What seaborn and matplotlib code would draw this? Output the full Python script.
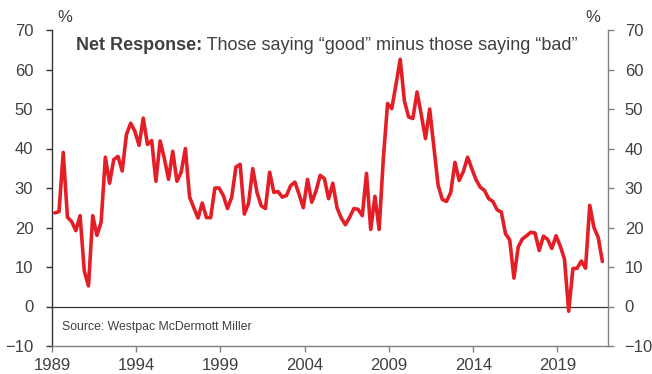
import numpy as np
import pandas as pd
import matplotlib
matplotlib.use("Agg")
import matplotlib.pyplot as plt
import seaborn as sns

# Quarterly net response, 1989Q1 .. 2021Q3
start_quarter = "1989Q1"
net_response = [
    23.7, 24.0, 39.0, 22.6, 21.5, 19.2, 23.0, 9.0, 5.2, 23.0,
    18.0, 21.4, 37.8, 31.2, 37.2, 38.0, 34.3, 43.5, 46.4, 44.4,
    40.8, 47.7, 41.0, 42.0, 31.7, 41.9, 37.5, 32.2, 39.3, 31.7,
    34.0, 40.0, 27.7, 25.0, 22.4, 26.2, 22.5, 22.5, 30.0, 30.0,
    28.1, 24.8, 27.7, 35.3, 36.0, 23.4, 26.2, 34.9, 28.9, 25.5,
    24.8, 34.0, 28.9, 29.1, 27.7, 28.1, 30.6, 31.5, 28.4, 25.0,
    32.2, 26.4, 29.2, 33.2, 32.4, 27.3, 31.2, 25.0, 22.4, 20.7,
    22.6, 24.8, 24.6, 23.0, 33.7, 19.5, 27.9, 19.5, 37.5, 51.4,
    50.1, 56.2, 62.6, 52.0, 48.0, 47.6, 54.3, 48.6, 42.5, 50.0,
    40.4, 30.7, 27.1, 26.6, 28.9, 36.5, 31.9, 34.2, 37.8, 34.9,
    32.1, 30.2, 29.4, 27.3, 26.6, 24.5, 23.9, 18.4, 16.9, 7.2,
    15.0, 17.1, 17.9, 18.8, 18.6, 14.2, 17.8, 17.0, 14.7, 17.9,
    15.3, 12.0, -1.2, 9.6, 9.7, 11.5, 9.7, 25.6, 20.0, 17.5,
    11.4,
]
x_ticks = [1989, 1994, 1999, 2004, 2009, 2014, 2019]
y_ticks = [-10, 0, 10, 20, 30, 40, 50, 60, 70]
title_bold = "Net Response:"
title_rest = " Those saying \u201cgood\u201d minus those saying \u201cbad\u201d"
source_text = "Source: Westpac McDermott Miller"

quarters = pd.period_range(start_quarter, periods=len(net_response), freq="Q")
# position each quarter at its middle month (decimal year)
dec_year = quarters.year + (quarters.quarter - 1) * 0.25 + 2 / 12
df = pd.DataFrame({"year": dec_year, "value": net_response})

sns.set_theme(style="white")
plt.rcParams["font.family"] = ["Liberation Sans", "DejaVu Sans"]

TXT = "#404040"
RED = "#E41E26"
FS = 12

fig = plt.figure(figsize=(6.52, 3.74), dpi=100)
ax = fig.add_axes([52 / 652, 1 - 346 / 374, 556 / 652, 316 / 374])

sns.lineplot(data=df, x="year", y="value", ax=ax, color=RED, linewidth=2.6)
ax.axhline(0, color="#333333", linewidth=0.9, zorder=1)

ax.set_xlim(1989, 2022)
ax.set_ylim(-10, 70)
ax.set_xticks(x_ticks)
ax.set_xticklabels([str(t) for t in x_ticks])
ax.set_yticks(y_ticks)
ax.set_xlabel("")
ax.set_ylabel("")

for s in ["top", "right"]:
    ax.spines[s].set_visible(False)
ax.spines["left"].set_color("#333333")
ax.spines["left"].set_linewidth(1.0)
ax.spines["bottom"].set_color("#808080")
ax.spines["bottom"].set_linewidth(1.0)

ax.tick_params(axis="y", direction="out", length=4, width=1, color="#333333",
               labelsize=FS, labelcolor=TXT, pad=9.5, left=True)
ax.tick_params(axis="x", direction="out", length=4, width=1, color="#808080",
               labelsize=FS, labelcolor=TXT, pad=5, bottom=True)

ax2 = ax.twinx()
ax2.set_ylim(-10, 70)
ax2.set_yticks(y_ticks)
for s in ["top", "left", "bottom"]:
    ax2.spines[s].set_visible(False)
ax2.spines["right"].set_color("#808080")
ax2.spines["right"].set_linewidth(1.0)
ax2.tick_params(axis="y", direction="out", length=4, width=1, color="#808080",
                labelsize=FS, labelcolor=TXT, pad=8, right=True)
ax2.grid(False)
ax.grid(False)

# % unit labels
fig.text(65 / 652, 1 - 18 / 374, "%", ha="center", va="center", fontsize=FS, color=TXT)
fig.text(593 / 652, 1 - 18 / 374, "%", ha="center", va="center", fontsize=FS, color=TXT)

# title split in bold / regular
split_x = 202 / 652
ty = 1 - 45 / 374
fig.text(split_x, ty, title_bold, ha="right", va="center", fontsize=13,
         fontweight="bold", color=TXT)
fig.text(split_x, ty, title_rest, ha="left", va="center", fontsize=13, color=TXT)

fig.text(62 / 652, 1 - 327 / 374, source_text, ha="left", va="center",
         fontsize=8.8, color=TXT)

fig.savefig("out.png", dpi=100)
